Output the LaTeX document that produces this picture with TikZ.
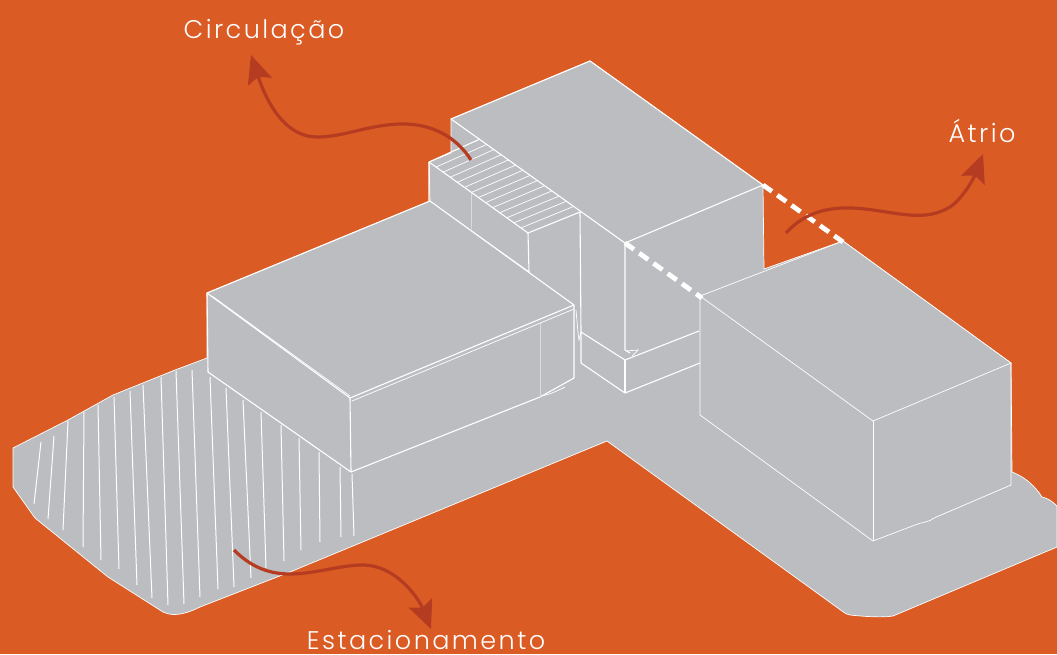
\documentclass[tikz,border=0pt]{standalone}
\usepackage{fontspec}
\setmainfont[LetterSpace=9.5]{Poppins Light}
\usetikzlibrary{arrows.meta}
\definecolor{bgorange}{HTML}{DB5B25}
\definecolor{slabgray}{HTML}{BCBDC0}
\definecolor{arrowred}{HTML}{B53B21}

\begin{document}
\begin{tikzpicture}[x=1pt, y=-1pt,
    edge/.style={draw=white, line width=1.1pt, line join=round},
    thinedge/.style={draw=white, line width=0.7pt},
    seam/.style={draw=white!45!slabgray, line width=0.6pt},
    hatch/.style={draw=white, line width=1pt},
    atriumdash/.style={draw=white, line width=4.8pt, dash pattern=on 11pt off 6.5pt},
    callout/.style={draw=arrowred, line width=3.2pt, -{Stealth[length=28pt, width=25pt, inset=5pt]}},
    tag/.style={text=white, font=\fontsize{25.5}{26}\selectfont, inner sep=0pt, anchor=base}]
    \useasboundingbox (0,0) rectangle (1057,654);
    \fill[bgorange] (0,0) rectangle (1057,654);

    \filldraw[fill=slabgray, thinedge]
        (13,448) -- (68,420) -- (113,395) -- (175,370) -- (207,358) -- (207,293)
        -- (430,201) -- (429,162) -- (451,153) -- (451,119) -- (590,61) -- (763,185)
        -- (764,269) -- (843,241) -- (1011,363) -- (1012,472)
        .. controls (1025,477) and (1035,486) .. (1042,497)
        .. controls (1047,498) and (1052,501) .. (1057,506)
        -- (1057,547) -- (893,616) .. controls (880,618) and (860,616) .. (850,615)
        .. controls (847,615) and (845,613) .. (842,611)
        -- (607,441) -- (290,572) -- (200,607) .. controls (190,612) and (175,618) .. (163,612)
        -- (108,577) -- (35,518) -- (13,487) -- cycle;

    \foreach \xa/\ya/\xb/\yb in {41/442/34/504, 54/436/48/519, 68/421/63/530, 84/412/83/547,
        98/405/101/560, 114/397/119/569, 130/391/137/585, 143/385/152/598, 161/377/168/605,
        176/371/184/604, 192/370/200/597, 210/377/218/589, 226/388/234/587, 243/400/251/578,
        261/412/266/568, 281/425/284/561, 299/438/301/550, 319/452/320/542, 340/467/341/537,
        352/474/354/536}
        \draw[hatch] (\xa,\ya) -- (\xb,\yb);

    \filldraw[fill=slabgray, edge] (451,119) -- (590,61) -- (763,185) -- (625,243) -- cycle;

    \draw[edge] (429,162) -- (480,139);
    \draw[edge] (429,162) -- (528,233) -- (580,212);
    \draw[edge] (429,162) -- (429,201) -- (529,272);
    \draw[edge] (528,233) -- (529,272);
    \draw[seam] (471,193) -- (471,229);
    \foreach \i in {1,...,13}
        \draw[thinedge] ({429+\i*7.07},{162+\i*5.07}) -- ({480+\i*7.14},{139+\i*5.21});

    \draw[edge] (580,212) -- (581,332) -- (581,363) -- (625,393) -- (700,363);
    \draw[edge] (581,332) -- (625,360) -- (699,331);
    \draw[edge] (625,360) -- (625,393);
    \draw[edge] (625,243) -- (625,350) -- (630,353);
    \draw[thinedge] (626,351) -- (638,350) -- (632,356);

    \filldraw[fill=slabgray, edge] (207,293) -- (430,201) -- (574,305) -- (350,398) -- cycle;
    \draw[thinedge] (212,296) -- (350,396);
    \draw[thinedge] (352,401) -- (574,309);
    \draw[edge] (207,293) -- (208,372) -- (351,472) -- (540,397) -- (574,378) -- (574,305);
    \draw[edge] (350,398) -- (351,472);
    \draw[seam] (540,322) -- (540,397);
    \draw[thinedge] (541,396) .. controls (548,395) and (555,392) .. (565,387);
    \draw[thinedge] (576,310) -- (578,332) -- (579,340) -- (581,332);

    \filldraw[fill=slabgray, thinedge] (700,296) -- (843,241) -- (1011,363) -- (873,421) -- cycle;
    \draw[thinedge] (700,296) -- (700,415) -- (873,541) -- (915,525)
        .. controls (922,522) and (930,522) .. (934,518) -- (1011,485) -- (1011,363);
    \draw[thinedge] (873,421) -- (873,541);

    \draw[atriumdash] (763,185) -- (843,242);
    \draw[atriumdash] (625,243) -- (702,298);

    \coordinate (circulationstart) at (471,160);
    \coordinate (circulationtip) at (251,55);
    \coordinate (atriostart) at (786,233);
    \coordinate (atriotip) at (983,154);
    \coordinate (parkingstart) at (234,550);
    \coordinate (parkingtip) at (431,629);

    \draw[callout] (circulationstart) .. controls (455,135) and (430,124) .. (403,124)
        .. controls (370,124) and (345,137) .. (317,137) .. controls (290,137) and (270,112) .. (circulationtip);
    \draw[callout] (atriostart) .. controls (805,212) and (830,205) .. (865,209)
        .. controls (900,213) and (925,222) .. (950,207) .. controls (962,199) and (973,180) .. (atriotip);
    \draw[callout] (parkingstart) .. controls (248,564) and (265,574) .. (290,574)
        .. controls (315,574) and (340,565) .. (363,565) .. controls (395,565) and (418,597) .. (parkingtip);

    \node[tag] (circulationlabel) at (264,38) {Circulação};
    \node[tag] (atriolabel) at (982,142) {Átrio};
    \node[tag] (parkinglabel) at (426,649) {Estacionamento};
\end{tikzpicture}
\end{document}
